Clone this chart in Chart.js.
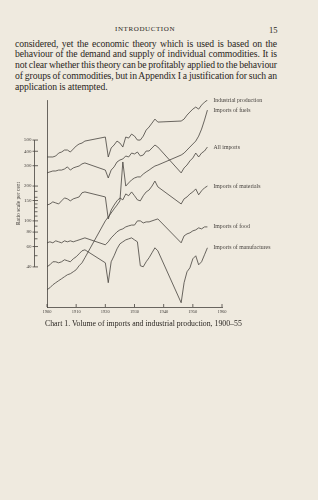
<!DOCTYPE html>
<html>
<head>
<meta charset="utf-8">
<script src="https://cdn.jsdelivr.net/npm/chart.js@4.4.1/dist/chart.umd.min.js"></script>
<style>
  body { margin: 0; background: #efeadf; }
  .page { position: relative; width: 318px; height: 500px; font-family: "Liberation Serif", "DejaVu Serif", serif; color: #2a2622; }
  .head { position: absolute; top: 25px; left: 115px; font-size: 7px; letter-spacing: 0.6px; }
  .folio { position: absolute; top: 25px; left: 269px; font-size: 8.5px; }
  .text { position: absolute; top: 38.5px; left: 15px; width: 262px; font-size: 9.7px; line-height: 10.8px; letter-spacing: -0.1px; }
  .text span { display: inline-block; white-space: nowrap; }
  .chart-box { position: absolute; top: 92px; left: 0; width: 318px; height: 230px; }
  .caption { position: absolute; top: 318.5px; left: 45px; font-size: 7.8px; white-space: nowrap; }
</style>
</head>
<body>
<div class="page">
  <div class="head">INTRODUCTION</div>
  <div class="folio">15</div>
  <div class="text">
    <span class="just">considered, yet the economic theory which is used is based on the</span><br>
    <span class="just">behaviour of the demand and supply of individual commodities. It is</span><br>
    <span class="just">not clear whether this theory can be profitably applied to the behaviour</span><br>
    <span class="just">of groups of commodities, but in Appendix I a justification for such an</span><br>
    <span>application is attempted.</span>
  </div>
  <div class="chart-box"><canvas id="importsChart"></canvas></div>
  <div class="caption">Chart 1. Volume of imports and industrial production, 1900–55</div>
</div>

<script>
const ink = '#46423e';

const years = [
  1900, 1901, 1902, 1903, 1904, 1905, 1906, 1907, 1908, 1909,
  1910, 1911, 1912, 1913, 1914, 1915, 1916, 1917, 1918, 1919,
  1920, 1921, 1922, 1923, 1924, 1925, 1926, 1927, 1928, 1929,
  1930, 1931, 1932, 1933, 1934, 1935, 1936, 1937, 1938, 1939,
  1940, 1941, 1942, 1943, 1944, 1945, 1946, 1947, 1948, 1949,
  1950, 1951, 1952, 1953, 1954, 1955
];

// ratio-scale readings, war years left empty (the book joins them with a straight line)
const industrialProduction = [
  357, 357, 357, 364, 386, 394, 410, 410, 394, 418,
  444, 462, 471, 490, null, null, null, null, null, null,
  531, 357, 427, 453, 490, 471, 435, 531, 520, 563,
  541, 500, 500, 541, 610, 648, 701, 759, 715, null,
  null, null, null, null, null, null, 730, 759, 822, 873,
  926, 964, 926, 1003, 1064, 1107
];
const importsFuels = [
  25.4, 26.4, 28.0, 29.2, 30.4, 31.6, 32.9, 34.2, 34.9, 36.3,
  37.8, 40.9, 43.4, 48.0, null, null, null, null, null, null,
  100, 108, 117, 127, 137, 149, 323, 200, 213, 226,
  235, 240, 240, 254, 265, 275, 287, 298, 304, null,
  null, null, null, null, null, null, 371, 386, 410, 435,
  462, 490, 541, 622, 744, 908
];
const allImports = [
  260, 265, 270, 270, 275, 275, 281, 293, 275, 287,
  293, 298, 311, 317, null, null, null, null, null, null,
  275, 235, 275, 293, 323, 336, 343, 364, 357, 386,
  379, 394, 364, 371, 402, 402, 427, 453, 435, null,
  null, null, null, null, null, null, 260, 287, 304, 330,
  350, 386, 357, 386, 402, 435
];
const importsMaterials = [
  137, 140, 146, 143, 140, 149, 158, 155, 149, 155,
  158, 161, 175, 178, null, null, null, null, null, null,
  161, 104, 124, 137, 149, 158, 152, 171, 165, 178,
  165, 152, 149, 165, 178, 185, 200, 221, 197, null,
  null, null, null, null, null, null, 140, 155, 161, 171,
  178, 189, 168, 182, 193, 200
];
const importsFood = [
  64.6, 65.9, 64.6, 67.2, 65.9, 64.6, 67.2, 65.9, 67.2, 65.9,
  67.2, 68.5, 69.9, 71.3, null, null, null, null, null, null,
  62.1, 65.9, 71.3, 75.7, 80.4, 83.6, 85.3, 88.7, 90.5, 92,
  92, 100, 100, 96, 98, 98, 100, 102, 104, null,
  null, null, null, null, null, null, 64.6, 74.2, 77.2, 78.8,
  82, 83.6, 87, 85.3, 88.7, 88.7
];
const importsManufactures = [
  40.1, 41.7, 44.3, 44.3, 43.4, 44.3, 46.1, 45.2, 44.3, 47.0,
  48.9, 51.9, 55.1, 56.2, null, null, null, null, null, null,
  43.4, 29.2, 44.3, 49.9, 57.3, 63.3, 65.9, 68.5, 69.9, 71.3,
  68.5, 65.9, 40.9, 40.1, 44.3, 48.0, 53.0, 58.5, 55.1, null,
  null, null, null, null, null, null, 19.6, 29.2, 36.3, 39.3,
  47.0, 49.9, 41.7, 44.3, 50.9, 58.5
];

const seriesNames = ['Industrial production', 'Imports of fuels', 'All imports',
  'Imports of materials', 'Imports of food', 'Imports of manufactures'];
const seriesValues = [industrialProduction, importsFuels, allImports,
  importsMaterials, importsFood, importsManufactures];

const yTickLabels = [40, 60, 80, 100, 150, 200, 300, 400, 500];
const yMinorTicks = [50, 70, 90, 110, 120, 130, 140, 160, 180];

// justify the body lines to the measure
document.querySelectorAll('.just').forEach(el => {
  const gaps = el.textContent.split(' ').length - 1;
  const w = el.getBoundingClientRect().width;
  el.style.wordSpacing = ((262 - w) / gaps) + 'px';
});

// ruler, decade ticks and end labels
const pageMarks = {
  id: 'pageMarks',
  afterDraw(chart) {
    const { ctx } = chart;
    const ys = chart.scales.y;
    const xs = chart.scales.x;
    const rx = ys.right - 12.5;
    ctx.save();
    ctx.strokeStyle = ink;
    ctx.lineWidth = 0.8;
    ctx.beginPath();
    ctx.moveTo(rx, ys.getPixelForValue(500));
    ctx.lineTo(rx, ys.getPixelForValue(40));
    yTickLabels.forEach(v => {
      const p = ys.getPixelForValue(v);
      ctx.moveTo(rx - 2, p);
      ctx.lineTo(rx + 3.5, p);
    });
    yMinorTicks.forEach(v => {
      const p = ys.getPixelForValue(v);
      ctx.moveTo(rx, p);
      ctx.lineTo(rx + 3, p);
    });
    xs.ticks.forEach(t => {
      const p = xs.getPixelForValue(t.value);
      ctx.moveTo(p, xs.top);
      ctx.lineTo(p, xs.top - 3);
    });
    ctx.stroke();

    ctx.fillStyle = ink;
    ctx.font = '5.8px "Liberation Serif"';
    ctx.textBaseline = 'middle';
    chart.data.datasets.forEach((ds, i) => {
      const pts = chart.getDatasetMeta(i).data;
      const last = pts[pts.length - 1];
      ctx.fillText(ds.label, last.x + 6, last.y);
    });
    ctx.restore();
  }
};

Chart.defaults.font.family = '"Liberation Serif", serif';
Chart.defaults.color = ink;

new Chart(document.getElementById('importsChart'), {
  type: 'line',
  data: {
    datasets: seriesNames.map((name, i) => ({
      label: name,
      data: years.map((yr, j) => ({ x: yr, y: seriesValues[i][j] })),
      borderColor: ink,
      borderWidth: 0.8,
      pointRadius: 0,
      spanGaps: true,
      tension: 0,
    })),
  },
  options: {
    responsive: true,
    maintainAspectRatio: false,
    animation: false,
    layout: { padding: { top: 8, right: 96, left: 0, bottom: 0 } },
    plugins: { legend: { display: false }, tooltip: { enabled: false } },
    scales: {
      x: {
        type: 'linear',
        min: 1900,
        max: 1960,
        afterFit: s => { s.height = 15; },
        grid: { display: false, drawTicks: false },
        border: { display: true, color: ink, width: 0.8 },
        ticks: { stepSize: 10, padding: 2, font: { size: 4.5 }, callback: v => String(v), maxRotation: 0 },
      },
      y: {
        type: 'logarithmic',
        min: 18,
        max: 1110,
        // labels sit on the ruler, so drop the label padding from the layout
        afterFit: s => { s.width = 47; s.paddingTop = 0; s.paddingBottom = 0; },
        afterBuildTicks: s => { s.ticks = yTickLabels.map(v => ({ value: v })); },
        grid: { display: false, drawTicks: false },
        border: { display: true, color: ink, width: 0.8 },
        ticks: { padding: 15.5, font: { size: 5 }, callback: v => String(v) },
        title: {
          display: true,
          text: 'Ratio scale per cent',
          font: { size: 5.5 },
          padding: { top: 15.5, bottom: 0 },
        },
      },
    },
  },
  plugins: [pageMarks],
});
</script>
</body>
</html>
